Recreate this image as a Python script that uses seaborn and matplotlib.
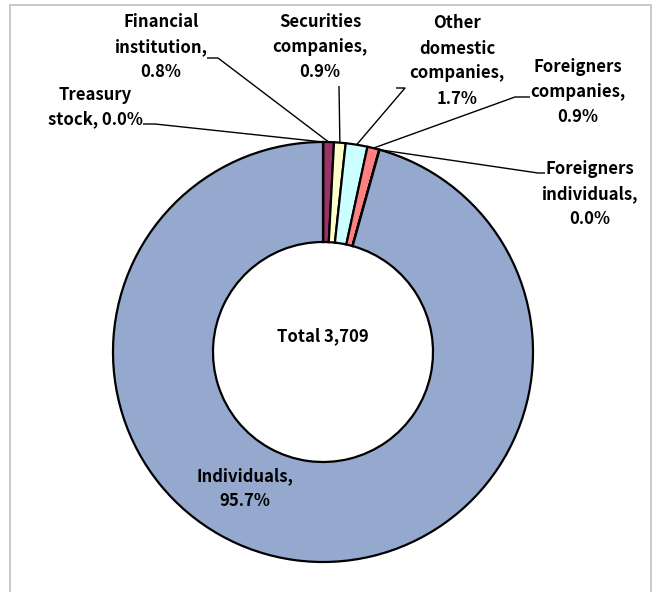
import numpy as np
import matplotlib
matplotlib.use("Agg")
import matplotlib.pyplot as plt
import seaborn as sns
from matplotlib.patches import Rectangle

# ---- data ----
categories = ["Treasury stock", "Financial institution", "Securities companies",
              "Other domestic companies", "Foreigners companies",
              "Foreigners individuals", "Individuals"]
counts = [1, 30, 33, 62, 34, 1, 3548]
pct_labels = ["0.0%", "0.8%", "0.9%", "1.7%", "0.9%", "0.0%", "95.7%"]
label_texts = ["Treasury\nstock, 0.0%", "Financial\ninstitution,\n0.8%",
               "Securities\ncompanies,\n0.9%", "Other\ndomestic\ncompanies,\n1.7%",
               "Foreigners\ncompanies,\n0.9%", "Foreigners\nindividuals,\n0.0%",
               "Individuals,\n95.7%"]
colors = ["#9999FF", "#993366", "#FFFFCC", "#CCFFFF", "#FF8080", "#0066CC", "#95A9CF"]
total_text = "Total 3,709"

sns.set_theme(style="white")
plt.rcParams['font.family'] = ['Noto Sans CJK JP', 'DejaVu Sans']

W, H = 656, 592
fig = plt.figure(figsize=(W / 100, H / 100), dpi=100)
ax = fig.add_axes([0, 0, 1, 1])

def Y(y):  # pixel-from-top -> data y
    return H - y

cx, cy, R, ring = 323, 352, 210, 100
ax.pie(counts, colors=colors, startangle=90, counterclock=False,
       center=(cx, Y(cy)), radius=R,
       wedgeprops=dict(width=ring, edgecolor="black", linewidth=1.6))
ax.set_xlim(0, W)
ax.set_ylim(0, H)
ax.set_aspect("equal")
ax.axis("off")

# frame
fig.patches.append(Rectangle((10 / W, -0.1), 641 / W, 1.1 - 5 / H, transform=fig.transFigure,
                             fill=False, edgecolor="#BFBFBF", linewidth=1.2))

fs = 12
tkw = dict(fontsize=fs, fontweight="bold", ha="center", va="center",
           linespacing=1.5, color="black")

# wedge mid angles
tot = float(sum(counts))
cum = np.cumsum([0] + counts[:-1])
mid = [np.deg2rad(90 - 360 * (c + v / 2) / tot) for c, v in zip(cum, counts)]

def anchor(i):
    return cx + R * np.cos(mid[i]), Y(cy) + R * np.sin(mid[i])

# label positions (text centers, px) and leader elbows (px)
layout = {
    0: ((95, 107), [(155, 124), (143, 124)]),
    1: ((161, 47), [(218, 58), (207, 58)]),
    2: ((320, 47), [(339, 86)]),
    3: ((457, 61), [(405, 88), (396, 88)]),
    4: ((578, 92), [(515, 97), (530, 97)]),
    5: ((590, 194), [(538, 173), (545, 173)]),
}
for i, ((tx, ty), elbows) in layout.items():
    ax.text(tx, Y(ty), label_texts[i], **tkw)
    ax_, ay_ = anchor(i)
    xs = [ax_] + [e[0] for e in elbows]
    ys = [ay_] + [Y(e[1]) for e in elbows]
    ax.plot(xs, ys, color="black", linewidth=1.0, solid_capstyle="butt")

ax.text(245, Y(489), label_texts[6], **tkw)
ax.text(cx, Y(336), total_text, **tkw)

fig.savefig("out.png", dpi=100)
